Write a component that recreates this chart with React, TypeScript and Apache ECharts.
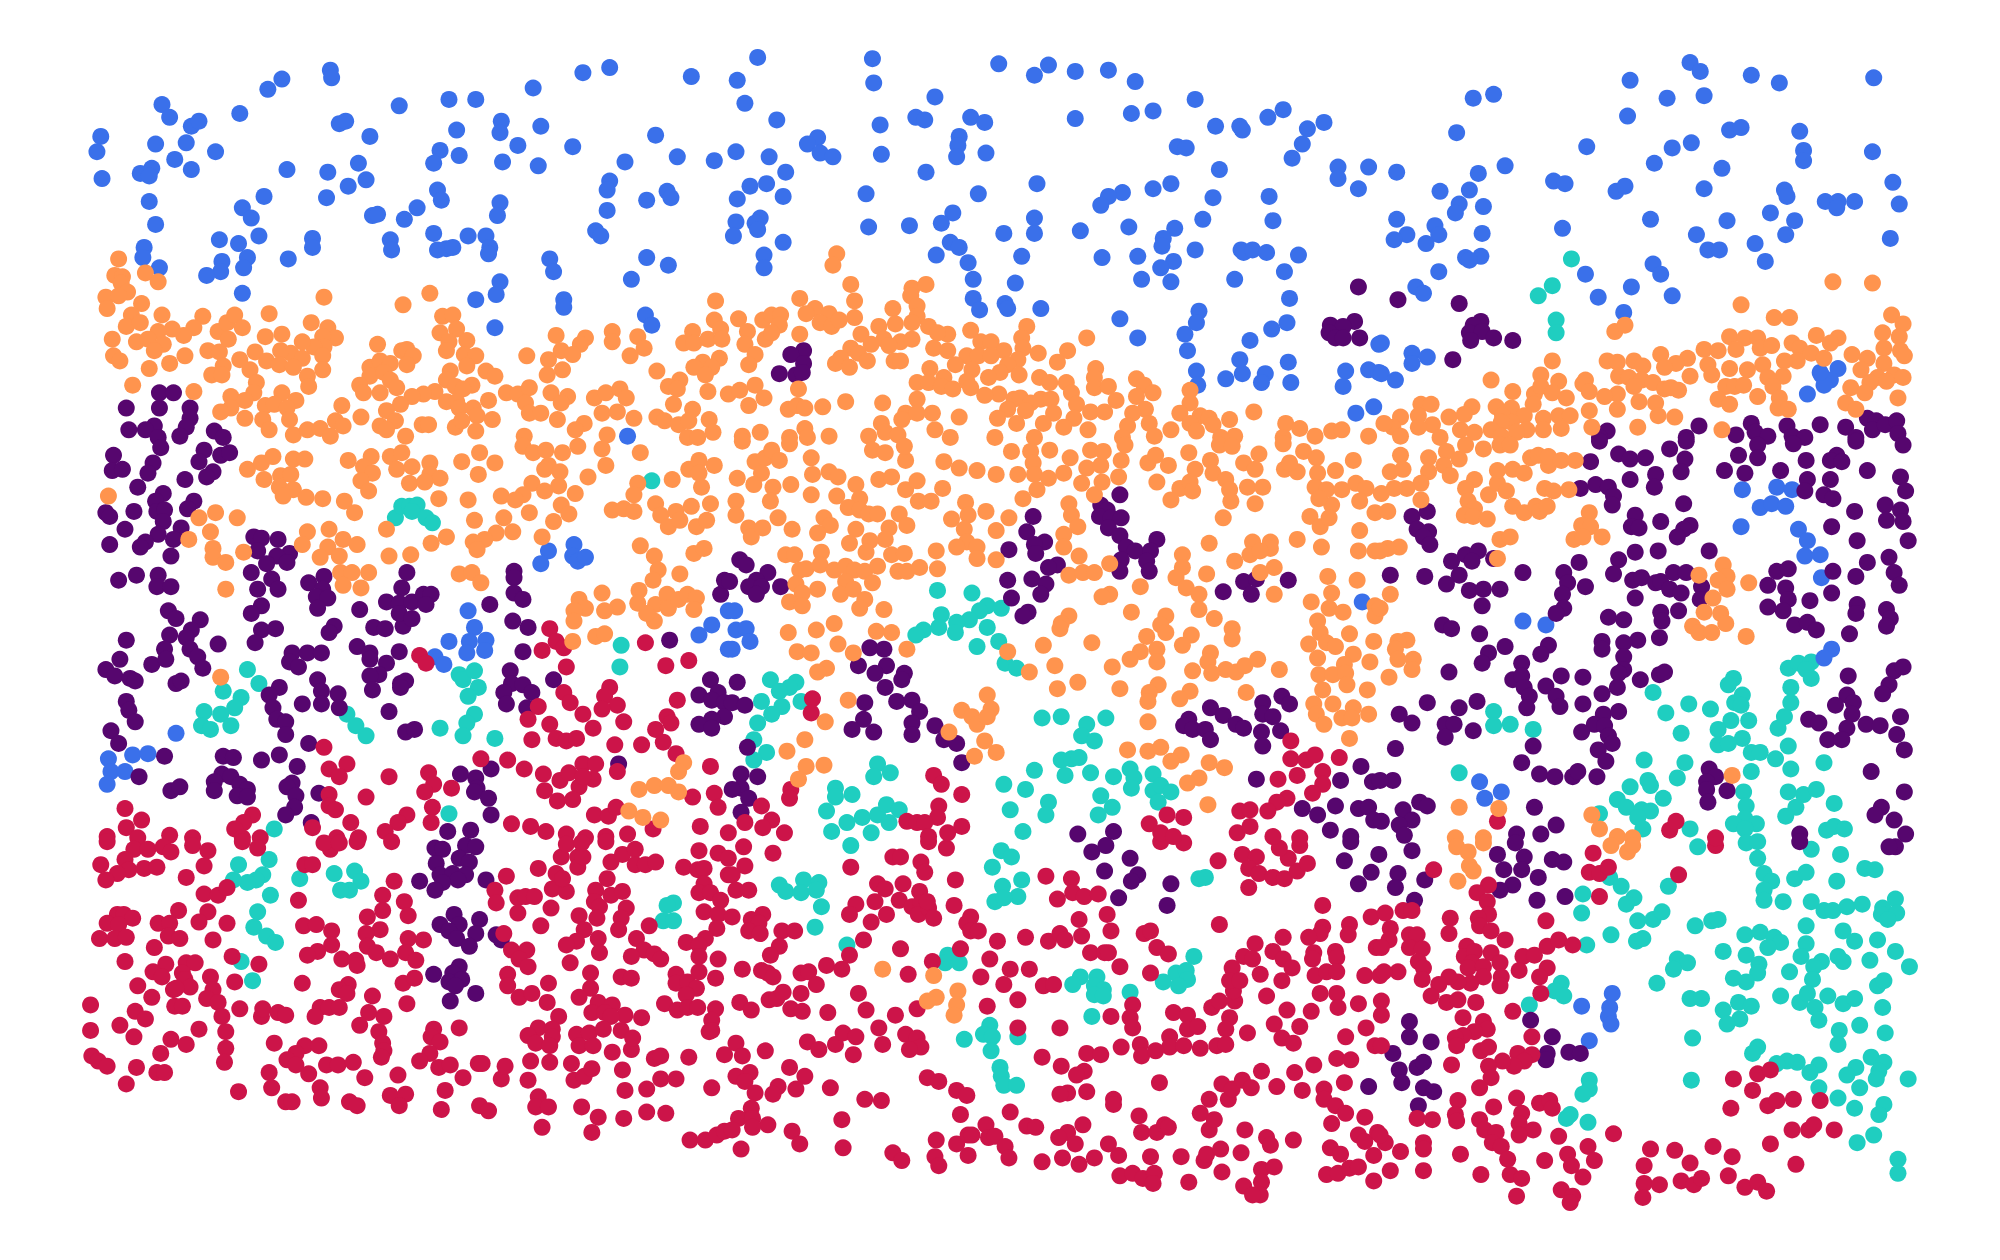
import React, { useEffect, useRef } from "react";
import * as echarts from "echarts";

// Each list: x, y, x, y ... (units: axis 0..1568, 0..988)
const blue = [79,107,76,119,80,140,127,82,133,92,150,99,156,95,122,113,146,112,169,119,137,125,150,133,110,136,119,132,117,138,117,158,122,176,113,194,112,202,125,210,188,89,210,70,221,62,259,55,260,61,313,83,352,78,373,78,266,97,271,95,290,107,393,95,392,104,358,102,424,99,406,114,345,118,360,122,340,128,394,127,422,130,449,115,418,69,457,57,478,53,542,60,514,106,531,123,490,127,560,126,225,133,257,135,281,128,287,141,273,146,256,155,207,154,190,163,197,171,203,185,172,188,187,191,245,187,245,194,226,203,194,202,174,205,191,210,173,213,162,216,190,230,292,169,296,168,317,172,327,163,343,149,346,157,392,159,390,169,306,188,307,196,340,183,367,185,381,185,384,194,383,199,343,196,350,195,355,194,392,221,389,231,373,235,388,257,431,203,434,213,442,235,442,241,478,142,476,149,476,165,507,157,523,150,526,155,467,181,471,185,507,202,524,208,495,219,506,247,511,255,492,342,
594,45,578,63,584,81,609,94,577,119,603,123,616,135,588,146,601,144,578,156,614,154,577,174,596,171,592,175,594,180,575,185,614,190,599,200,599,210,684,46,685,65,733,76,783,50,811,59,822,51,843,56,869,55,890,64,937,78,690,98,718,92,725,94,761,92,772,96,843,93,887,89,904,87,953,99,972,99,974,102,994,92,1006,86,1038,96,1025,101,1021,113,1013,124,752,107,751,114,750,123,773,120,641,108,633,113,643,120,653,123,691,121,726,135,679,152,767,152,813,144,923,115,930,116,956,133,904,148,918,144,880,151,869,154,863,161,951,155,995,154,1049,131,1049,140,1073,131,1065,148,943,172,998,173,885,178,921,179,912,187,911,193,937,196,747,167,738,175,811,171,811,183,847,181,787,183,713,177,681,178,745,190,752,194,734,200,801,201,759,206,763,219,796,222,864,202,892,201,920,205,910,210,895,219,918,221,973,196,975,198,982,196,993,198,1018,200,1007,213,968,219,1011,234,763,234,768,243,788,238,790,242,816,242,940,244,938,253,929,262,931,275,878,250,892,265,1009,253,997,258,980,267,972,282,974,293,938,291,939,302,961,297,992,293,989,300,1010,284,1012,300,1055,291,1053,303,1073,290,1081,292,1081,270,1063,324,1077,319,
1155,77,1171,74,1142,104,1095,135,1129,150,1159,136,1152,149,1180,130,1144,160,1141,167,1163,162,1095,172,1125,177,1128,184,1103,184,1093,188,1118,191,1162,183,1161,201,1149,202,1152,204,1128,213,1110,225,1116,230,1107,277,1119,280,1107,285,1083,293,1094,298,1083,269,1278,63,1244,115,1276,91,1307,77,1325,49,1333,56,1336,75,1373,59,1395,65,1469,61,1356,102,1365,100,1326,112,1311,116,1297,128,1350,132,1411,103,1414,118,1414,126,1468,119,1484,143,1489,160,1482,187,1218,142,1227,144,1225,179,1267,150,1274,146,1336,148,1294,172,1330,184,1354,173,1339,196,1348,196,1376,191,1384,205,1388,167,1399,149,1401,154,1407,173,1400,184,1431,158,1441,158,1440,163,1454,158,1243,215,1253,233,1279,225,1273,245,1296,207,1302,215,1311,232,1428,294,1441,289,1435,298,1430,302,1417,309,1427,292,
430,432,424,442,450,427,449,436,453,440,459,437,367,479,372,492,381,502,368,503,380,510,366,512,352,503,341,515,348,521,138,575,85,595,104,592,116,591,87,605,98,605,84,615,558,490,548,498,571,509,571,479,576,479,577,494,585,493,588,503,574,509,1068,472,1366,384,1393,382,1405,384,1380,398,1389,395,1400,397,1365,413,1410,415,1417,424,1415,436,1427,435,1428,453,1194,487,1212,490,1436,509,1430,516,1160,613,1177,621,1164,626,1264,779,1262,790,1261,797,1263,803,1240,789,1246,816];

const teal = [1232,203,1217,224,1206,232,1220,251,1220,261,511,377,310,406,315,397,321,397,327,396,323,401,334,406,339,410,194,525,203,536,175,542,189,547,184,555,173,560,160,558,158,569,165,572,181,569,487,506,486,523,360,529,363,533,372,526,375,539,367,546,372,560,366,567,363,577,345,571,388,579,272,560,279,569,287,577,352,638,215,650,
735,463,762,465,774,475,768,479,785,477,760,486,738,482,750,488,736,492,749,496,724,494,718,498,774,492,783,503,766,507,788,520,797,524,604,533,624,535,619,539,611,542,628,550,613,554,597,550,605,560,594,567,591,580,601,590,591,596,817,563,832,562,867,563,852,568,848,577,858,581,832,596,840,595,846,594,811,604,835,608,855,606,873,609,886,603,889,610,887,618,904,607,904,620,910,616,918,621,908,629,688,599,698,606,685,609,787,615,804,619,822,629,820,639,792,635,863,624,872,633,861,639,655,618,668,623,655,625,648,636,664,645,652,652,676,641,683,653,688,639,695,631,705,635,697,645,802,652,
1296,543,1306,559,1324,552,1341,556,1359,532,1355,537,1366,545,1360,551,1365,553,1357,565,1371,565,1347,572,1366,579,1347,584,1355,583,1318,575,1402,524,1410,520,1420,519,1416,525,1420,532,1404,539,1404,551,1399,562,1394,571,1402,585,1373,590,1380,590,1392,595,1404,603,1430,598,1373,605,1289,596,1321,598,1315,610,1292,612,1294,616,1278,617,1304,626,1268,627,1275,633,1287,635,1294,636,1284,641,1288,650,1325,650,1367,621,1369,632,1402,621,1414,623,1424,619,1408,633,1438,630,1400,640,1368,642,1359,646,1377,646,1432,651,1438,648,1446,650,1368,650,1254,638,1144,606,1171,558,1171,569,1184,568,1202,572,
1331,664,1369,661,1378,660,1378,673,1420,666,1443,670,1383,685,1389,691,1383,698,1383,706,1407,689,1416,684,1440,691,1462,681,1470,682,1398,707,1420,707,1430,714,1437,714,1448,711,1460,709,1476,712,1486,705,1487,716,1475,717,1480,721,1416,726,1445,730,1454,738,1472,737,1486,746,1497,758,1466,753,1441,750,1445,754,1416,740,1412,750,1428,754,1422,758,1421,768,1403,762,1368,733,1380,731,1391,735,1396,739,1386,743,1351,746,1369,749,1379,756,1378,763,1369,770,1359,767,1329,726,1342,722,1347,721,1315,752,1323,755,1312,760,1299,771,1325,783,1334,783,1351,792,1363,786,1373,789,1364,799,1354,803,1396,781,1411,786,1417,779,1433,781,1423,790,1426,800,1445,787,1454,783,1476,790,1458,804,1478,810,1442,808,1441,819,1472,773,1477,769,1327,814,1378,821,1374,826,1401,832,1409,833,1393,834,1426,835,1419,841,1455,837,1448,843,1467,829,1477,833,1473,840,1471,846,1496,846,1326,847,1426,853,1458,853,1441,861,1454,869,1477,866,1473,874,1469,890,1456,896,1488,909,1488,920,
1262,688,1271,695,1281,704,1275,709,1241,701,1240,716,1284,722,1296,721,1303,715,1244,741,1263,733,1283,738,1288,736,1308,695,1224,771,1219,777,1226,781,1199,788,1246,847,1246,854,1241,858,1231,874,1228,877,1245,880,
187,678,211,674,235,689,262,685,278,683,283,691,274,698,267,698,206,686,201,690,194,692,183,690,212,702,202,715,199,727,209,734,216,739,189,754,198,769,528,708,523,710,520,722,528,722,
611,694,616,699,630,690,628,700,642,692,640,698,644,711,639,727,664,741,667,663,785,667,793,672,778,680,801,690,786,695,798,703,780,707,787,704,940,689,945,688,743,749,741,755,752,755,847,766,841,772,860,766,858,773,865,776,858,780,865,781,886,778,856,797,936,750,922,763,930,761,912,770,931,768,924,773,776,804,771,811,778,813,756,815,798,813,777,824,784,837,785,844,787,851,797,851];

const purple = [125,308,136,308,99,320,125,320,149,320,149,328,121,334,114,337,101,337,146,335,141,342,168,338,175,343,124,343,1065,225,1043,255,1062,252,1053,256,1042,261,1047,265,1053,265,1066,265,630,275,620,278,630,285,611,293,624,294,629,292,1096,235,1144,238,1161,252,1155,255,1152,261,1162,260,1153,267,1171,265,1186,267,1139,282,1260,338,1254,343,1322,343,1332,334,1361,341,1373,332,1376,339,1386,342,1401,334,1405,342,1415,343,1427,333,1447,335,1455,343,1464,328,1471,330,1468,337,1478,333,1487,330,1488,340,
89,357,88,369,96,368,120,363,116,371,126,351,160,353,156,362,173,357,180,355,167,370,162,374,145,376,108,382,128,387,122,393,123,401,129,400,152,393,147,399,105,401,83,402,86,405,128,409,98,415,142,414,124,419,136,423,114,425,110,429,86,427,134,436,199,421,205,422,218,423,202,432,227,434,217,436,209,442,225,441,197,449,213,454,218,462,202,462,93,455,107,451,124,451,123,460,134,460,242,457,254,452,253,462,248,468,257,469,249,477,282,478,205,475,197,481,132,479,138,485,157,486,150,494,133,498,146,500,149,509,155,515,159,524,99,502,94,517,119,521,129,509,130,517,171,505,83,525,90,530,102,532,106,534,138,536,142,534,205,494,216,493,200,504,262,491,258,496,293,492,302,493,316,491,319,449,315,461,303,472,313,473,323,472,332,466,338,466,334,474,313,481,323,485,384,474,403,448,403,453,403,465,410,470,402,487,414,492,410,511,229,512,241,512,252,512,227,519,234,523,280,507,290,512,290,517,313,511,303,520,297,529,290,530,292,541,314,536,318,534,314,539,400,526,401,536,410,537,417,543,395,543,397,552,413,555,434,533,219,539,211,545,214,555,217,564,224,566,224,576,249,533,252,542,252,552,237,552,265,544,266,555,305,558,318,574,325,572,242,583,99,550,101,557,106,566,87,573,93,583,129,593,109,609,134,620,141,617,175,593,183,594,205,596,219,592,233,601,174,607,181,609,168,613,168,620,188,615,194,619,186,624,194,625,229,614,225,617,232,624,231,633,224,639,250,622,244,645,557,533,548,545,563,543,558,549,568,551,568,562,558,564,548,568,558,571,525,502,485,599,361,607,385,603,373,610,374,618,372,621,383,626,385,639,351,652,369,651,565,466,568,455,
878,388,863,396,868,400,862,405,871,406,879,406,869,414,878,420,907,423,883,429,890,432,902,432,879,439,899,440,878,448,901,448,810,405,805,417,819,425,811,427,812,434,791,431,829,443,822,445,790,455,809,454,820,458,816,466,793,469,806,480,802,483,580,439,585,443,602,449,593,455,587,460,597,460,593,466,612,460,572,456,682,508,693,509,673,522,695,522,686,528,709,528,707,533,694,539,703,550,715,549,721,558,715,567,715,576,733,569,740,580,750,583,754,598,678,551,677,564,668,572,685,574,578,535,574,551,584,553,586,586,581,607,594,609,581,618,574,619,587,626,581,637,975,456,985,454,981,466,1010,455,959,464,949,555,959,561,969,568,975,571,990,551,1005,546,1011,552,990,560,998,562,1004,573,989,574,990,585,932,564,928,569,935,572,945,572,949,580,1067,601,1076,613,1051,612,985,611,1047,632,1021,634,1033,639,1043,651,1065,634,1073,633,1077,643,1059,656,845,654,873,652,
1254,346,1247,362,1269,356,1278,360,1290,359,1309,352,1322,346,1321,360,1318,370,1298,372,1297,382,1278,376,1239,383,1251,380,1261,382,1265,389,1264,396,1320,395,1352,369,1363,357,1368,371,1378,349,1378,359,1396,369,1406,348,1416,361,1417,376,1415,385,1435,376,1440,357,1435,361,1444,362,1430,388,1437,391,1464,369,1490,374,1494,385,1454,401,1436,413,1478,396,1479,408,1490,400,1492,409,1456,424,1496,424,1492,349,1455,346,1282,404,1279,413,1285,414,1302,409,1325,412,1320,415,1315,421,1282,433,1300,432,1340,432,1107,405,1119,401,1111,415,1120,417,1116,421,1121,427,1138,440,1149,435,1159,432,1154,440,1171,438,1144,451,1134,458,1090,451,1117,452,1194,449,1152,463,1163,462,1176,462,1162,475,1238,441,1269,439,1265,450,1226,449,1229,457,1243,460,1225,466,1226,477,1220,481,1282,469,1280,455,1287,453,1298,457,1302,456,1312,449,1322,449,1309,462,1318,465,1334,460,1333,470,1302,480,1303,487,1316,479,1301,500,1386,459,1393,448,1402,446,1400,461,1402,470,1386,476,1398,479,1419,471,1437,448,1436,465,1455,452,1464,441,1481,437,1485,449,1489,459,1456,474,1455,481,1479,478,1482,485,1479,491,1450,497,1407,490,1417,488,1424,494,1131,490,1138,493,1160,497,1180,507,1167,512,1162,520,1136,527,1214,506,1208,513,1261,484,1273,486,1256,503,1256,509,1284,502,1273,504,1273,515,1273,525,1269,528,1268,539,1256,544,1286,533,1301,529,1305,527,1193,520,1186,533,1193,530,1195,539,1199,546,1197,555,1212,538,1224,530,1241,531,1220,546,1223,554,1241,552,1119,551,1097,560,1107,567,1144,555,1158,550,1133,568,1140,568,1133,578,1155,573,1094,587,1202,585,1193,598,1257,560,1269,558,1250,568,1240,574,1258,569,1261,577,1264,583,1253,588,1259,597,1207,607,1219,609,1233,609,1237,605,1252,609,1092,612,1082,612,1449,530,1485,526,1492,523,1481,537,1476,544,1448,545,1439,553,1453,551,1418,564,1426,567,1452,560,1463,568,1474,569,1448,571,1433,580,1444,580,1487,576,1490,562,1493,588,1467,605,1340,603,1345,609,1338,613,1338,619,1339,629,1354,620,1493,621,1475,633,1470,639,1485,643,1494,654,1113,629,1119,632,1100,635,1107,643,1097,647,1101,655,1203,633,1220,647,1189,654,1208,654,1083,644,1411,654,
1107,667,1174,670,1217,674,1226,676,1188,661,1195,672,1179,682,1193,682,1206,688,1186,694,1176,698,1205,706,1227,703,1117,690,1096,685,1094,696,1109,706,1105,801,1105,813,1122,817,1092,826,1097,839,1111,837,1116,833,1099,849,1116,853,1124,856,1112,867,1200,800,1217,813,1213,826,1212,831,1230,825,1239,826,1411,660,1486,664,1481,664,856,668,867,663,886,673,866,683,892,686,887,691,918,693,877,704,915,710,1054,675,1075,684,1065,693,1081,670,1059,660,1073,852,
341,665,347,666,365,663,373,664,360,673,368,676,342,677,345,686,355,685,365,686,359,690,347,692,341,698,329,691,381,690,356,717,345,725,376,721,360,725,352,730,373,732,358,736,368,742,389,733,393,737,360,758,355,763,340,764,352,770,362,768,357,773,373,779,353,785];

const red = [431,493,436,503,442,508,425,510,444,523,506,504,522,522,540,518,329,514,334,520,442,543,447,551,478,539,474,546,484,553,472,556,531,549,457,560,523,562,526,567,489,566,465,571,514,572,520,582,422,554,414,564,431,568,417,580,436,579,444,581,452,579,482,584,503,584,530,591,254,586,258,603,272,599,266,609,305,609,287,625,258,623,258,632,263,635,377,595,398,596,411,603,426,607,439,612,446,606,457,599,467,599,454,617,465,611,457,609,484,605,427,620,437,628,449,627,557,601,543,625,560,622,563,633,336,606,340,615,333,621,354,618,339,633,338,645,319,639,312,645,302,652,401,646,416,648,428,652,444,654,459,657,466,639,477,640,483,633,475,656,492,654,512,650,549,648,571,653,98,634,111,643,99,649,84,656,108,657,133,655,151,657,198,639,191,645,184,650,204,657,190,657,245,649,275,645,264,657,281,657,
84,660,105,666,116,666,128,664,134,668,151,663,163,667,190,660,202,665,98,674,79,678,101,682,92,685,83,690,113,681,123,680,146,688,160,679,160,701,171,702,178,696,239,678,245,678,234,706,259,666,254,661,266,661,280,660,307,660,309,691,300,702,300,714,317,707,320,718,288,719,298,729,287,732,288,742,295,747,306,752,320,736,332,737,318,747,326,753,260,730,260,741,238,726,248,725,249,746,241,749,268,752,279,753,280,757,140,714,163,715,156,723,178,724,124,724,133,724,132,734,141,736,167,737,121,743,92,717,97,717,104,720,84,724,93,725,78,736,90,736,99,735,98,754,130,756,120,762,127,766,146,755,153,755,143,763,145,768,182,750,203,756,184,770,165,766,167,776,108,773,119,782,136,776,149,774,138,775,162,783,171,786,137,789,143,789,71,788,106,793,114,799,174,797,188,791,205,797,206,791,218,794,224,796,94,804,71,808,105,813,156,807,177,809,134,815,146,819,177,822,126,826,176,833,72,828,77,832,84,836,107,837,123,841,129,841,99,850,187,856,237,771,273,772,266,776,272,779,292,781,251,790,247,797,258,790,266,790,289,794,301,797,282,804,297,809,300,818,301,824,299,829,215,818,239,820,250,820,232,826,225,831,232,835,242,842,256,835,265,835,277,833,286,845,211,841,213,853,312,843,251,853,252,861,224,864,229,864,274,864,280,867,306,859,318,858,313,867,349,855,346,870,363,845,393,846,396,836,375,834,378,834,376,867,383,871,416,832,431,833,414,847,422,860,420,868,430,868,456,868,469,876,425,884,464,888,489,877,507,872,522,873,490,855,507,854,518,846,530,846,488,839,448,834,450,847,458,844,464,838,480,825,495,823,513,830,518,828,540,829,558,853,568,827,541,894,553,894,562,890,568,887,319,787,316,771,325,767,360,806,340,807,338,813,345,817,337,826,329,832,344,837,353,835,397,687,388,698,389,708,406,704,406,716,412,703,419,703,432,712,424,726,422,681,433,697,444,699,436,685,441,689,440,672,453,672,453,680,457,672,444,662,456,661,475,660,479,676,488,670,498,666,498,678,506,678,514,676,476,689,467,698,479,702,488,699,466,707,470,711,491,712,487,720,468,720,454,718,458,729,485,729,469,736,452,738,444,741,470,747,499,736,509,726,505,745,495,750,513,748,518,752,447,755,463,763,463,775,454,782,401,745,413,745,407,752,414,758,398,764,398,773,407,782,417,779,430,771,429,786,438,797,395,732,487,766,495,767,469,786,480,788,464,794,474,794,490,796,479,797,503,798,422,806,433,807,414,812,433,813,420,818,431,820,452,811,462,810,454,820,465,820,473,807,487,808,496,814,530,764,530,771,539,770,548,762,546,775,561,767,538,780,521,787,531,792,539,790,547,790,561,791,558,800,556,809,558,808,536,680,547,682,552,681,548,667,563,669,571,673,552,693,548,700,557,700,565,706,552,715,563,717,562,728,553,736,538,739,548,741,548,750,563,752,571,686,
583,664,606,669,584,679,574,686,577,698,587,698,574,719,589,721,598,717,595,724,587,730,596,732,613,730,623,730,611,742,604,749,582,760,597,761,602,763,606,766,580,786,589,792,603,784,609,783,614,778,628,763,634,762,640,772,628,779,620,791,629,793,649,794,648,757,660,760,673,779,679,792,702,796,719,791,667,680,700,672,706,672,722,676,725,684,742,665,728,660,688,693,694,697,708,693,721,699,749,690,748,710,671,709,666,717,686,707,695,717,683,723,705,706,715,711,722,708,720,717,728,712,732,720,727,707,677,737,666,749,706,744,712,764,731,754,753,744,761,719,758,724,761,730,767,730,782,738,776,752,804,735,822,738,831,732,835,737,848,734,846,721,868,717,871,730,897,732,902,730,907,743,916,748,855,747,866,747,869,747,878,758,902,763,820,687,840,689,841,700,850,703,829,705,861,701,955,675,974,670,985,672,979,681,987,685,979,696,998,688,1007,689,1017,683,1025,677,1010,673,1003,665,1019,663,910,660,928,661,1037,710,956,725,1075,719,1058,725,1057,733,1037,727,1035,732,1026,735,1006,735,984,740,998,746,1006,752,1013,759,975,750,982,752,966,759,988,764,1005,769,1030,747,1029,752,1031,765,1047,746,1048,751,1040,762,1048,762,1070,765,1082,765,1079,743,769,766,792,760,807,760,787,772,818,773,826,772,798,784,774,789,798,806,831,806,871,797,888,788,886,798,888,806,920,794,931,796,931,807,939,805,964,798,961,807,978,810,950,790,956,785,968,785,967,777,964,769,972,769,993,781,1009,792,1028,793,1035,779,1048,779,1049,790,1065,787,999,803,1019,805,1071,806,1005,814,1014,818,1055,813,1078,820,917,813,917,821,928,820,941,822,954,820,961,819,894,819,895,828,906,824,879,821,852,826,863,827,817,829,832,836,850,840,844,843,852,856,837,857,831,858,909,849,873,862,873,866,893,875,895,888,907,888,913,882,916,884,849,882,837,888,830,892,843,897,869,897,877,906,858,908,833,908,846,913,817,911,902,907,926,907,944,910,946,905,957,901,973,904,958,919,878,922,888,920,896,924,905,920,904,928,932,927,975,930,989,917,999,915,989,927,988,937,982,937,1040,921,1049,920,1058,916,1065,915,1077,926,1043,900,1051,905,1077,906,993,892,996,898,1014,894,976,886,948,886,941,873,952,878,948,862,963,862,958,850,966,854,974,847,981,853,989,840,1015,841,1001,852,1021,855,1030,835,1048,830,1059,831,1054,849,1038,854,1038,862,1047,867,1055,873,1070,876,1044,881,1065,890,1070,895,1080,888,633,817,642,823,655,819,661,810,671,813,669,827,689,806,692,819,710,811,719,814,722,821,713,823,577,818,582,828,600,824,619,837,631,844,588,841,577,844,584,848,592,857,610,852,606,858,624,854,651,853,678,862,691,863,727,845,736,848,750,855,758,859,753,874,792,872,589,869,579,877,590,877,602,882,590,884,574,886,621,887,627,897,581,901,660,878,661,900,700,904,707,910,734,894,733,907,736,914,750,897,759,906,759,890,762,890,773,882,775,892,780,891,788,899,791,908,805,883,812,884,
1249,669,1345,663,1124,682,1316,686,1246,684,1254,685,1261,680,1254,703,1167,694,1158,700,1166,707,1086,716,1100,714,1107,714,1137,720,1136,732,1167,717,1159,720,1160,726,1169,730,1212,722,1180,737,1090,728,1089,737,1083,743,1105,733,1111,733,1105,743,1115,744,1112,754,1116,759,1115,768,1096,762,1085,762,1150,742,1148,750,1156,746,1154,755,1169,747,1176,755,1151,759,1163,758,1163,766,1177,766,1176,773,1153,771,1143,770,1136,766,1128,772,1122,781,1134,786,1143,784,1157,786,1147,798,1163,801,1166,807,1156,809,1147,812,1141,814,1142,820,1161,824,1167,821,1083,785,1083,796,1083,820,1194,750,1203,749,1213,742,1222,737,1233,741,1191,761,1213,759,1207,766,1208,779,1186,793,1201,813,1190,826,1201,827,1195,832,1187,836,1178,832,1167,836,1169,845,1160,853,1138,835,1143,863,1141,874,1142,879,1171,868,1189,861,1193,873,1191,881,1202,886,1207,865,1215,863,1217,869,1160,878,1164,886,1173,888,1170,896,1177,899,1191,890,1182,909,1222,891,1229,905,1232,914,1245,899,1250,910,1241,923,1211,910,1145,905,1116,896,1116,901,1116,918,1090,918,1098,903,1086,896,1082,890,1161,921,1184,921,1193,924,1189,938,1224,933,1233,938,1231,943,1265,889,1111,877,1123,878,1294,901,1313,902,1343,899,1358,907,1325,912,1289,914,1355,922,1318,926,1289,928,1301,929,1328,929,1334,924,1288,939,1368,931,1378,927,1385,934,1388,897,1408,913,1405,886,1418,886,1422,882,1438,886,1357,869,1386,867,1393,863,1406,862,1427,863,1359,846,1374,855,1378,842,1388,839,1174,644,1309,651,1314,644,1345,657,
637,548,636,559,732,608,738,615,754,623,620,619,619,626,597,632,605,643,598,649,584,645,615,653,1012,581,1012,595,1024,596,1031,592,1050,594,1037,605,1017,608,1002,611,1037,615,1029,622,1009,626,1001,629,994,636,972,636,980,635,970,653,980,648,901,646,915,639,928,641,910,653,920,656,998,656,736,632,735,641,711,644,719,645,725,645,754,648,743,653,728,656,1019,657];

const orange = [93,203,90,216,96,217,114,214,124,221,95,222,100,229,83,233,93,232,84,242,111,238,103,247,99,256,110,253,127,247,159,248,152,257,144,263,135,258,124,260,88,266,107,268,116,266,128,270,121,275,89,279,94,283,117,289,133,285,145,279,163,275,172,276,171,260,178,253,184,247,190,257,179,266,175,287,166,294,174,294,188,282,196,290,200,276,209,283,201,300,208,264,221,262,211,246,244,253,254,233,257,257,263,265,253,264,254,272,246,272,253,279,237,268,228,277,220,275,237,281,219,286,230,288,253,290,241,295,242,303,104,302,152,307,181,311,199,308,192,314,181,320,173,323,192,328,221,308,232,314,208,318,215,317,225,320,206,329,227,329,211,337,268,318,263,330,269,334,283,327,230,341,241,337,251,336,259,342,296,270,315,275,319,274,324,279,319,286,290,288,298,283,306,285,290,295,301,292,306,298,282,302,285,308,298,308,311,304,316,239,337,230,347,248,355,247,345,261,358,258,352,268,366,267,350,275,364,278,373,279,366,287,353,291,350,298,357,303,370,302,363,305,341,307,332,309,323,311,314,317,350,315,358,315,360,320,371,320,383,314,381,291,388,295,397,308,406,309,415,304,412,316,415,324,424,324,437,329,386,329,374,326,303,322,298,334,310,330,331,333,336,333,357,335,362,330,373,338,303,337,318,342,411,342,436,263,440,275,459,265,455,270,449,278,430,282,441,290,429,294,413,279,480,260,480,268,500,264,505,273,494,279,515,291,432,308,445,311,440,316,466,312,475,308,486,305,491,312,472,324,484,323,497,328,458,332,451,337,476,341,536,269,543,260,544,269,555,266,561,236,560,251,565,258,566,266,564,281,551,284,544,288,558,288,553,294,533,298,524,303,531,305,555,307,571,309,528,317,543,321,515,327,521,330,532,333,540,330,556,329,559,339,539,343,547,343,
656,199,653,208,667,223,670,236,670,249,627,234,639,242,632,246,650,246,643,253,652,256,658,251,627,262,579,250,586,260,584,270,592,278,587,286,600,266,598,251,605,247,612,247,611,255,605,261,715,226,726,223,714,232,719,240,700,242,719,248,702,254,689,256,675,262,715,253,728,256,743,262,735,261,732,273,743,275,706,268,715,266,693,266,697,271,683,270,667,273,673,277,680,283,659,281,655,285,666,288,701,283,706,283,761,259,769,268,777,268,805,256,801,265,802,273,787,275,814,277,837,275,829,284,852,265,859,289,758,279,767,279,777,279,798,282,790,286,749,286,762,290,729,289,784,292,775,296,799,294,815,296,823,300,836,300,840,308,858,296,858,304,869,303,875,314,740,296,719,300,728,300,738,303,747,305,758,299,761,304,783,309,772,310,719,313,626,305,592,302,580,306,599,312,587,318,618,321,625,318,631,320,645,319,663,315,692,316,710,324,707,329,719,324,731,324,752,327,733,337,691,332,582,342,596,339,619,343,631,336,633,343,650,342,681,342,694,339,704,341,745,343,780,343,811,343,795,313,800,312,808,316,816,313,824,313,790,321,804,322,782,328,797,332,826,324,818,332,844,317,842,328,834,335,855,323,866,323,853,337,891,297,897,302,904,308,891,311,898,321,888,324,901,332,884,334,905,342,880,343,918,337,933,306,933,316,925,324,941,326,948,328,933,332,964,329,951,333,938,338,983,323,1008,332,1019,336,968,342,957,343,1006,343,1031,342,1044,338,1052,337,1073,342,
1266,260,1274,255,1365,239,1437,221,1468,222,1391,249,1403,249,1483,247,1492,254,1476,261,1489,264,1424,263,1441,265,1435,269,1477,273,1490,275,1493,279,1477,285,1356,264,1368,265,1378,265,1361,274,1380,273,1389,271,1405,269,1411,273,1420,277,1430,281,1409,283,1399,283,1382,286,1370,290,1356,289,1336,274,1347,275,1323,281,1302,278,1314,285,1305,288,1339,286,1342,294,1325,295,1260,283,1268,284,1281,283,1288,287,1269,295,1277,296,1287,298,1281,303,1296,300,1305,305,1310,304,1316,306,1353,303,1360,303,1367,302,1398,295,1386,296,1390,303,1452,278,1464,281,1459,290,1472,296,1485,294,1492,296,1479,299,1466,300,1451,304,1462,308,1488,312,1447,316,1455,321,1347,313,1356,317,1378,311,1395,312,1394,320,1402,321,1285,315,1298,316,1268,309,1258,311,1246,322,1268,321,1300,326,1313,327,1248,335,1284,335,1350,337,1243,298,1241,301,1246,307,1217,283,1208,294,1222,299,1169,298,1186,307,1203,309,1208,303,1217,308,1228,312,1202,317,1114,317,1122,317,1112,326,1098,327,1136,327,1123,333,1112,335,1092,335,1085,332,1098,342,1145,337,1154,319,1148,325,1173,319,1185,320,1178,326,1195,326,1210,328,1222,326,1231,326,1224,336,1210,337,1197,337,1185,331,1177,331,1169,337,1156,339,1129,343,1189,339,1177,342,
85,389,156,406,169,402,186,406,148,423,165,417,167,430,167,437,177,441,191,433,177,462,194,368,205,363,214,358,230,360,239,360,207,376,220,373,228,372,219,382,230,384,222,389,240,390,253,391,270,393,278,402,273,361,291,358,285,366,292,371,283,377,289,385,306,358,315,355,311,368,323,366,321,379,337,363,337,372,345,375,333,378,344,391,362,362,376,355,388,363,375,372,367,392,372,408,410,350,418,355,428,353,441,355,453,350,472,352,430,365,427,368,439,370,417,379,438,381,427,385,410,388,393,389,404,392,415,402,451,387,461,374,475,365,440,396,446,403,434,409,395,406,402,417,389,418,380,423,371,425,374,431,425,421,502,355,500,379,497,388,527,376,514,395,480,400,489,399,497,401,518,404,530,401,524,413,533,408,546,413,554,408,542,397,557,395,550,382,540,368,548,361,560,365,548,371,502,428,513,436,516,447,512,455,533,450,544,434,552,430,472,465,501,463,454,470,459,477,450,479,450,487,484,476,474,479,467,499,474,497,449,503,500,473,514,474,513,487,507,481,523,466,524,477,532,470,539,466,546,469,544,478,241,417,237,427,258,415,269,423,280,427,257,429,251,437,266,436,305,436,322,435,303,415,338,426,350,421,267,449,276,449,289,449,269,459,283,461,360,450,370,449,377,457,173,531,536,598,532,605,501,619,513,616,524,616,532,621,493,636,504,641,518,643,
578,375,592,362,600,359,605,353,611,361,619,348,582,346,597,371,591,380,606,382,620,380,604,393,577,393,577,404,610,406,587,414,589,421,598,414,621,415,636,359,637,372,650,370,657,374,636,388,656,389,671,380,674,391,665,398,674,400,681,403,688,403,689,376,699,374,684,353,694,355,710,361,709,350,710,384,719,377,720,393,730,393,739,383,740,362,752,367,766,369,781,372,798,372,793,354,808,354,810,363,811,372,822,375,834,371,839,359,823,353,813,384,802,391,646,406,651,412,641,418,671,415,666,426,705,403,697,414,711,412,694,423,682,424,679,433,616,435,623,435,644,433,627,447,632,446,643,443,654,447,663,444,670,447,678,448,688,444,699,435,709,434,704,448,711,448,721,445,735,446,734,432,663,456,659,466,669,462,684,457,624,458,641,462,629,465,619,472,629,475,678,470,674,477,693,478,757,394,773,401,759,404,746,407,791,406,756,415,781,416,758,425,766,429,750,429,766,438,781,439,838,395,840,404,845,413,834,419,834,429,846,436,838,451,849,449,858,449,870,442,848,379,852,367,863,365,858,388,864,378,877,374,855,353,865,354,879,361,882,349,900,363,906,357,916,365,932,355,937,368,907,378,925,383,933,378,935,385,918,392,949,361,951,371,961,376,964,384,965,393,959,406,978,382,990,382,984,395,987,356,975,363,984,368,1007,368,1017,370,1011,363,1047,369,1061,361,1022,354,1006,348,956,349,966,350,1032,359,1033,371,1031,382,1040,384,1052,384,1063,379,1071,383,1066,393,1078,402,1044,396,1034,391,1027,405,1035,413,1042,406,1066,416,1065,432,1078,432,1036,429,1017,423,982,425,996,425,996,430,980,435,988,432,968,440,948,426,927,435,927,445,946,450,922,453,930,461,940,466,940,478,952,485,999,445,988,449,999,466,1041,452,1064,455,1044,465,1028,472,1042,477,1053,480,1078,475,1078,483,1033,487,1035,496,1040,504,1047,507,1058,497,1026,505,1077,503,1033,516,1061,513,1054,521,1074,519,1034,529,1045,529,1055,528,1056,537,1037,541,1072,541,1030,552,1032,560,1045,552,1061,555,1052,563,1060,563,1038,568,1073,560,1058,579,894,460,870,466,864,468,887,480,914,483,910,490,914,496,899,499,934,498,927,506,966,493,966,501,907,509,894,511,886,517,907,519,949,512,947,519,961,525,950,528,969,527,976,522,986,517,935,526,1003,525,977,543,933,542,925,548,908,537,901,543,900,550,900,566,838,483,832,489,831,493,818,506,856,504,827,522,872,523,845,535,829,540,878,540,807,527,790,511,711,509,687,495,699,496,669,512,657,505,654,489,640,494,618,496,625,511,636,512,648,524,641,527,665,549,647,566,774,545,754,557,777,556,762,562,766,568,774,562,744,574,772,581,781,590,764,593,631,580,617,589,632,601,646,600,626,611,884,588,900,589,910,586,926,592,918,597,948,598,960,602,940,610,931,614,947,631,
1098,357,1090,370,1100,368,1120,359,1134,354,1144,360,1132,365,1120,370,1137,373,1114,379,1103,383,1093,383,1083,387,1114,392,1088,401,1156,376,1149,383,1151,393,1156,399,1148,404,1155,405,1166,407,1167,388,1174,379,1174,369,1181,385,1186,368,1195,371,1200,359,1206,357,1214,365,1214,358,1224,361,1235,361,1211,383,1218,385,1230,384,1186,397,1195,402,1204,397,1207,401,1213,397,1246,402,1240,412,1247,413,1256,421,1234,423,1241,421,1176,423,1184,421,1174,438,1097,429,1088,430,1082,432,1090,466,1082,477,1103,502,1096,503,1094,509,1096,517,1108,517,1107,525,1089,531,1149,349,1163,352,1176,349,1184,349,1332,451,1351,443,1354,452,1347,455,1354,462,1343,469,1371,457,1336,480,1349,481,1353,489,1327,491,1332,496,1342,496,1369,499,1358,608,1144,633,1175,634,1248,639,1254,650,1268,656,1163,657,1141,657,1280,657,1142,664,1151,668,1163,661,1152,679,1155,683,1143,691,1263,663,1276,668,1280,663,692,760,732,765,751,777,734,782,727,785,750,788,748,796];

const pairs = (flat: number[]) => {
  const out: number[][] = [];
  for (let i = 0; i + 1 < flat.length; i += 2) out.push([flat[i], flat[i + 1]]);
  return out;
};

const seriesDefs: [string, number[], string][] = [
  ["Teal", teal, "#1fcec0"],
  ["Blue", blue, "#3a70ea"],
  ["Purple", purple, "#56066e"],
  ["Red", red, "#cc1449"],
  ["Orange", orange, "#ff944e"],
];

export default function App() {
  const ref = useRef<HTMLDivElement>(null);
  useEffect(() => {
    document.body.style.margin = "0";
    const chart = echarts.init(ref.current!, undefined, { renderer: "svg" });
    chart.setOption({
      animation: false,
      backgroundColor: "#ffffff",
      grid: { left: 0, right: 0, top: 0, bottom: 0 },
      xAxis: { type: "value", min: 0, max: 1568, show: false },
      yAxis: { type: "value", min: 0, max: 988, inverse: true, show: false },
      series: seriesDefs.map(([name, flat, color]) => ({
        name,
        type: "scatter",
        data: pairs(flat),
        symbol: "circle",
        symbolSize: 17,
        silent: true,
        large: false,
        itemStyle: { color, opacity: 1 },
      })),
    });
    return () => chart.dispose();
  }, []);
  return <div ref={ref} style={{ width: 2000, height: 1260 }} />;
}
